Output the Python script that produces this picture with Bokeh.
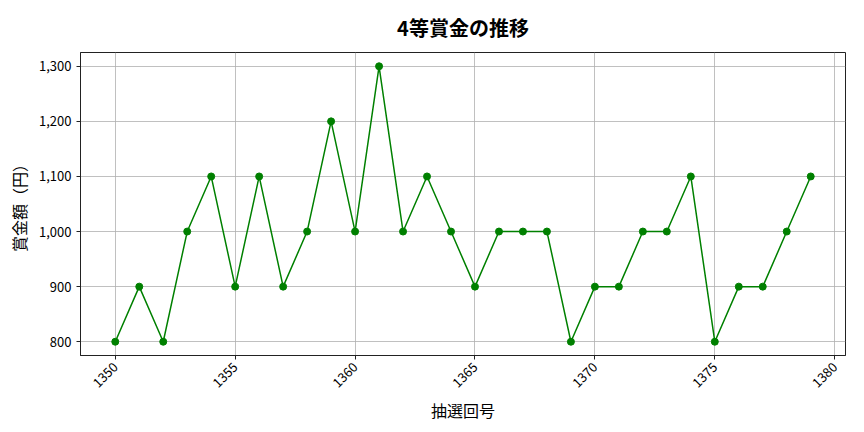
import math
from bokeh.plotting import figure
from bokeh.models import Range1d, NumeralTickFormatter, FixedTicker
from bokeh.embed import file_html
from bokeh.resources import INLINE

draws = list(range(1350, 1380))
prizes = [800, 900, 800, 1000, 1100, 900, 1100, 900, 1000, 1200,
          1000, 1300, 1000, 1100, 1000, 900, 1000, 1000, 1000, 800,
          900, 900, 1000, 1000, 1100, 800, 900, 900, 1000, 1100]
x_ticks = [1350, 1355, 1360, 1365, 1370, 1375, 1380]
y_ticks = [800, 900, 1000, 1100, 1200, 1300]
title_text = "4等賞金の推移"
x_label = "抽選回号"
y_label = "賞金額（円）"

FONT = "Noto Sans CJK JP"

xpad = (max(draws) - min(draws)) * 0.05
ypad = (max(prizes) - min(prizes)) * 0.05

p = figure(width=856, height=432, output_backend="svg", toolbar_location=None,
           x_range=Range1d(min(draws) - xpad, max(draws) + xpad),
           y_range=Range1d(min(prizes) - ypad, max(prizes) + ypad),
           min_border_left=80, min_border_right=11, min_border_top=52, min_border_bottom=77)

p.title.text = title_text
p.title.align = "center"
p.title.text_font = FONT
p.title.text_font_size = "20px"
p.title.text_font_style = "bold"
p.title.text_color = "#000000"
p.title.standoff = 21

p.line(draws, prizes, line_color="green", line_width=1.5)
p.scatter(draws, prizes, size=7, fill_color="green", line_color="green")

p.xaxis.ticker = FixedTicker(ticks=x_ticks)
p.yaxis.ticker = FixedTicker(ticks=y_ticks)
p.yaxis.formatter = NumeralTickFormatter(format="0,0")
p.xaxis.major_label_orientation = math.pi / 4
p.xaxis.axis_label = x_label
p.yaxis.axis_label = y_label

for ax in (p.xaxis, p.yaxis):
    ax.axis_label_text_font = FONT
    ax.axis_label_text_font_size = "16px"
    ax.axis_label_text_font_style = "normal"
    ax.axis_label_text_color = "#000000"
    ax.major_label_text_font = FONT
    ax.major_label_text_font_size = "13px"
    ax.major_label_text_color = "#000000"
    ax.axis_line_color = "#222222"
    ax.major_tick_line_color = "#222222"
    ax.major_tick_in = 0
    ax.major_tick_out = 4
    ax.minor_tick_line_color = None

p.xaxis.axis_label_standoff = 3

p.xgrid.grid_line_color = "#b0b0b0"
p.ygrid.grid_line_color = "#b0b0b0"
p.xgrid.grid_line_width = 0.8
p.ygrid.grid_line_width = 0.8
p.outline_line_color = "#222222"
p.outline_line_alpha = 1.0
p.outline_line_width = 1

open("out.html", "w").write(file_html(p, INLINE))
